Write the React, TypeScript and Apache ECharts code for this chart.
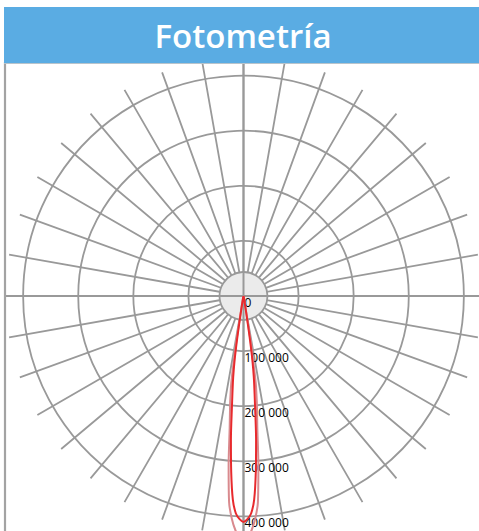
import React, { useEffect, useRef } from "react";
import * as echarts from "echarts";

// Angles from nadir (degrees) and luminous intensity (cd) for the two planes
const ANGLES = [0, 1, 2, 3, 4, 5, 6, 7, 7.5, 8, 8.5, 9, 10, 12, 15, 20, 30, 60, 90];
const C0_C180 = [410000, 405000, 395000, 370000, 320000, 262000, 200000, 158000, 136000, 110000, 74000, 40000, 12000, 4000, 2000, 1000, 500, 200, 0];
const C90_C270 = [442000, 437000, 425000, 405000, 375000, 310000, 240000, 200000, 180000, 160000, 120000, 80000, 22000, 6000, 2500, 1200, 600, 200, 0];

const RADIUS_TICKS = [0, 100000, 200000, 300000, 400000];
const RADIUS_MAX = 432000;
const TITLE = "Fotometría";

const CX = 243.5;
const CY = 296;
const R = 238;

function buildCurve(values: number[]) {
  const pts: [number, number][] = [];
  for (let i = ANGLES.length - 1; i >= 0; i--) pts.push([values[i], 360 - ANGLES[i]]);
  for (let i = 0; i < ANGLES.length; i++) pts.push([values[i], ANGLES[i]]);
  return pts;
}

function fmt(v: number) {
  if (v > RADIUS_TICKS[RADIUS_TICKS.length - 1]) return "";
  return String(v).replace(/\B(?=(\d{3})+(?!\d))/g, " ");
}

export default function App() {
  const ref = useRef<HTMLDivElement>(null);
  useEffect(() => {
    document.body.style.margin = "0";
    if (!ref.current) return;
    const chart = echarts.init(ref.current, undefined, { renderer: "svg" });
    const grey = "#999999";
    const interval = RADIUS_TICKS[1] - RADIUS_TICKS[0];
    const nTicks = Math.floor(RADIUS_MAX / interval) + 2;
    const circleColors: string[] = [];
    for (let i = 0; i < nTicks; i++) circleColors.push(i === 0 || i === nTicks - 1 ? "rgba(0,0,0,0)" : grey);
    chart.setOption({
      animation: false,
      polar: [
        { center: [CX, CY], radius: R },
        { center: [CX, CY], radius: R },
      ],
      angleAxis: [
        {
          polarIndex: 0,
          type: "value",
          min: 0,
          max: 360,
          interval: 10,
          startAngle: 270,
          z: 0,
          axisLine: { show: false },
          axisTick: { show: false },
          axisLabel: { show: false },
          splitLine: { show: true, lineStyle: { color: grey, width: 1.8 } },
        },
        {
          polarIndex: 1,
          type: "value",
          min: 0,
          max: 360,
          interval: 90,
          startAngle: 270,
          z: 2,
          axisLine: { show: false },
          axisTick: { show: false },
          axisLabel: { show: false },
          splitLine: { show: true, lineStyle: { color: grey, width: 2 } },
        },
      ],
      radiusAxis: [
        {
          polarIndex: 0,
          type: "value",
          min: 0,
          max: RADIUS_MAX,
          interval: interval,
          z: 3,
          axisLine: { show: false },
          axisTick: { show: false },
          axisLabel: {
            show: true,
            formatter: fmt,
            color: "#000",
            fontSize: 12,
            fontFamily: "Open Sans",
            margin: 1,
            align: "left",
            verticalAlign: "top",
          },
          splitLine: { show: true, lineStyle: { color: circleColors, width: 1.8 } },
        },
        {
          polarIndex: 1,
          type: "value",
          min: 0,
          max: RADIUS_MAX,
          show: false,
        },
      ],
      graphic: [
        {
          type: "circle",
          z: 1,
          shape: { cx: CX, cy: CY, r: 24 },
          style: { fill: "#ebebeb", stroke: grey, lineWidth: 1.8 },
        },
        {
          type: "line",
          z: 10,
          shape: { x1: 5, y1: 62, x2: 5, y2: 531 },
          style: { stroke: "#a3a3a3", lineWidth: 2.2 },
        },
        {
          type: "rect",
          z: 11,
          shape: { x: 4, y: 7, width: 480, height: 56 },
          style: { fill: "#5aace3" },
        },
        {
          type: "line",
          z: 11,
          shape: { x1: 4, y1: 63.5, x2: 479, y2: 63.5 },
          style: { stroke: "#b8c4cc", lineWidth: 1 },
        },
        {
          type: "text",
          z: 12,
          x: 243,
          y: 35,
          style: {
            text: TITLE,
            fill: "#ffffff",
            font: "600 33px 'Open Sans'",
            align: "center",
            verticalAlign: "middle",
          },
        },
      ],
      series: [
        {
          type: "line",
          coordinateSystem: "polar",
          polarIndex: 0,
          z: 5,
          symbol: "none",
          smooth: 0.3,
          clip: false,
          lineStyle: { color: "#d98a8e", width: 2 },
          data: buildCurve(C90_C270),
        },
        {
          type: "line",
          coordinateSystem: "polar",
          polarIndex: 0,
          z: 6,
          symbol: "none",
          smooth: 0.3,
          clip: false,
          lineStyle: { color: "#e82a2d", width: 2 },
          data: buildCurve(C0_C180),
        },
      ],
    });
    return () => chart.dispose();
  }, []);
  return <div ref={ref} style={{ width: 479, height: 531 }} />;
}
